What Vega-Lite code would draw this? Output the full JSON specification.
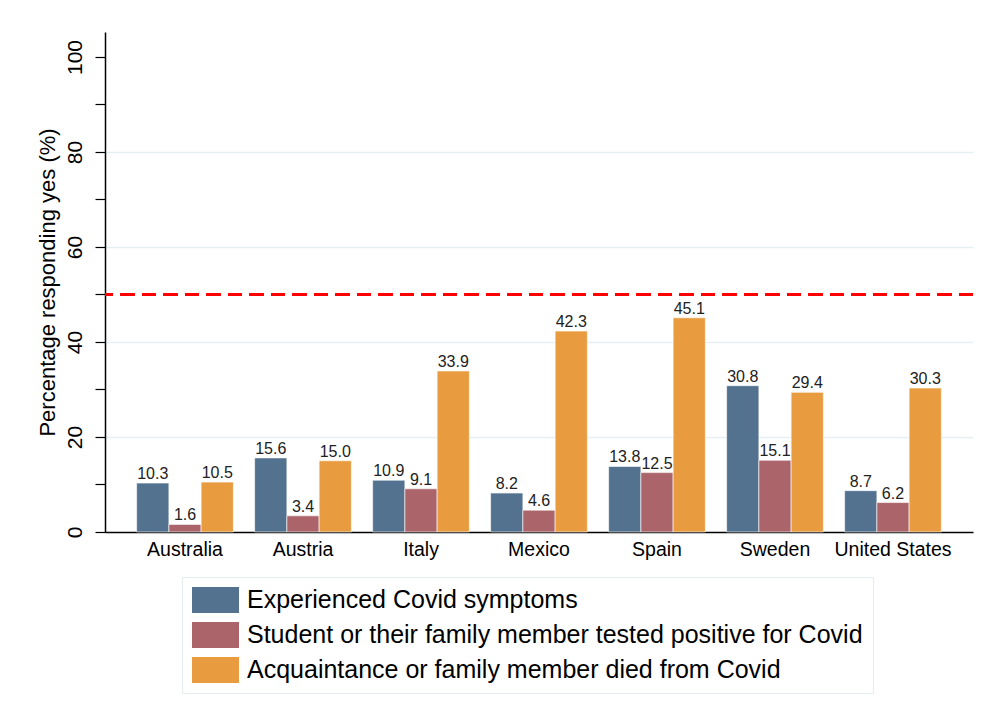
{
  "$schema": "https://vega.github.io/schema/vega-lite/v6.json",
  "autosize": {"type": "none"},
  "width": 868,
  "height": 500,
  "padding": {"left": 105, "top": 32, "right": 13, "bottom": 187},
  "background": "white",
  "config": {
    "font": "Liberation Sans",
    "view": {"stroke": null}
  },
  "data": {
    "values": [
      {"country": "Australia", "measure": "Experienced Covid symptoms", "order": 1, "pct": 10.3},
      {"country": "Australia", "measure": "Student or their family member tested positive for Covid", "order": 2, "pct": 1.6},
      {"country": "Australia", "measure": "Acquaintance or family member died from Covid", "order": 3, "pct": 10.5},
      {"country": "Austria", "measure": "Experienced Covid symptoms", "order": 1, "pct": 15.6},
      {"country": "Austria", "measure": "Student or their family member tested positive for Covid", "order": 2, "pct": 3.4},
      {"country": "Austria", "measure": "Acquaintance or family member died from Covid", "order": 3, "pct": 15.0},
      {"country": "Italy", "measure": "Experienced Covid symptoms", "order": 1, "pct": 10.9},
      {"country": "Italy", "measure": "Student or their family member tested positive for Covid", "order": 2, "pct": 9.1},
      {"country": "Italy", "measure": "Acquaintance or family member died from Covid", "order": 3, "pct": 33.9},
      {"country": "Mexico", "measure": "Experienced Covid symptoms", "order": 1, "pct": 8.2},
      {"country": "Mexico", "measure": "Student or their family member tested positive for Covid", "order": 2, "pct": 4.6},
      {"country": "Mexico", "measure": "Acquaintance or family member died from Covid", "order": 3, "pct": 42.3},
      {"country": "Spain", "measure": "Experienced Covid symptoms", "order": 1, "pct": 13.8},
      {"country": "Spain", "measure": "Student or their family member tested positive for Covid", "order": 2, "pct": 12.5},
      {"country": "Spain", "measure": "Acquaintance or family member died from Covid", "order": 3, "pct": 45.1},
      {"country": "Sweden", "measure": "Experienced Covid symptoms", "order": 1, "pct": 30.8},
      {"country": "Sweden", "measure": "Student or their family member tested positive for Covid", "order": 2, "pct": 15.1},
      {"country": "Sweden", "measure": "Acquaintance or family member died from Covid", "order": 3, "pct": 29.4},
      {"country": "United States", "measure": "Experienced Covid symptoms", "order": 1, "pct": 8.7},
      {"country": "United States", "measure": "Student or their family member tested positive for Covid", "order": 2, "pct": 6.2},
      {"country": "United States", "measure": "Acquaintance or family member died from Covid", "order": 3, "pct": 30.3}
    ]
  },
  "encoding": {
    "x": {
      "field": "country", "type": "nominal", "sort": null,
      "scale": {"paddingInner": 0, "paddingOuter": 0.178},
      "axis": {
        "title": null, "labelAngle": 0, "labelFontSize": 19.5, "labelColor": "black",
        "labelPadding": 8, "ticks": false, "domainColor": "black", "domainWidth": 1.5,
        "grid": false
      }
    },
    "y": {
      "field": "pct", "type": "quantitative",
      "scale": {"domain": [0, 105.26], "nice": false, "zero": true},
      "axis": {
        "title": "Percentage responding yes (%)",
        "titleFontSize": 22, "titleFontWeight": "normal", "titleColor": "black", "titlePadding": 5,
        "values": [0, 10, 20, 30, 40, 50, 60, 70, 80, 90, 100],
        "labelExpr": "datum.value % 20 == 0 ? datum.label : ''",
        "labelAngle": 270, "labelFontSize": 21, "labelColor": "black", "labelPadding": 10,
        "tickSize": 10, "tickColor": "black", "tickWidth": 1.2,
        "domainColor": "black", "domainWidth": 1.5,
        "grid": true, "gridColor": "#e6eff1", "gridWidth": 1.5,
        "gridOpacity": {"condition": {"test": "datum.value % 20 == 0 && datum.value > 0 && datum.value < 100", "value": 1}, "value": 0}
      }
    }
  },
  "layer": [
    {
      "mark": {"type": "bar", "stroke": "white", "strokeWidth": 0.6},
      "encoding": {
        "xOffset": {"field": "measure", "type": "nominal", "sort": {"field": "order"}, "scale": {"paddingInner": 0, "paddingOuter": 0.33}},
        "color": {
          "field": "measure", "type": "nominal", "sort": {"field": "order"},
          "scale": {
            "domain": ["Experienced Covid symptoms", "Student or their family member tested positive for Covid", "Acquaintance or family member died from Covid"],
            "range": ["#52728f", "#ab656a", "#e89c3f"]
          },
          "legend": {
            "title": null, "orient": "none", "legendX": 77, "legendY": 545,
            "direction": "vertical",
            "symbolType": "M-1,-0.553H1V0.553H-1Z", "symbolSize": 2209, "symbolStrokeWidth": 0,
            "symbolOpacity": 1,
            "labelFontSize": 25, "labelColor": "black", "labelOffset": 8, "labelLimit": 800,
            "clipHeight": 26, "rowPadding": 9,
            "padding": 10, "strokeColor": "#e3ecee", "fillColor": "white"
          }
        }
      }
    },
    {
      "mark": {"type": "text", "baseline": "alphabetic", "dy": -4, "fontSize": 16, "color": "#222"},
      "encoding": {
        "xOffset": {"field": "measure", "type": "nominal", "sort": {"field": "order"}},
        "text": {"field": "pct", "type": "quantitative", "format": ".1f"}
      }
    },
    {
      "mark": {"type": "rule", "color": "#ff0000", "strokeDash": [14, 7.5], "strokeWidth": 1.3},
      "encoding": {"y": {"datum": 50}, "x": null}
    }
  ]
}
